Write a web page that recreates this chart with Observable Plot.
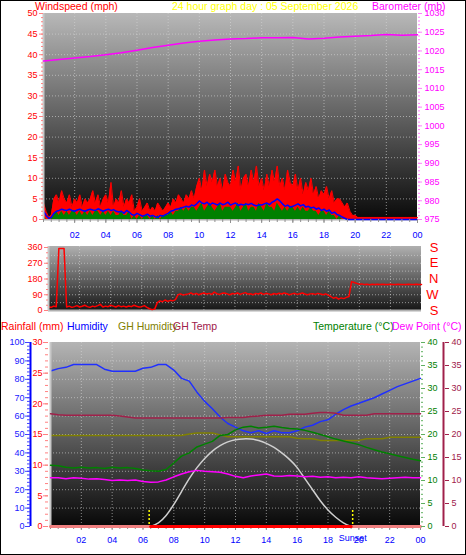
<!DOCTYPE html>
<html><head><meta charset="utf-8">
<script src="https://cdn.jsdelivr.net/npm/d3@7"></script>
<script src="https://cdn.jsdelivr.net/npm/@observablehq/plot@0.6"></script>
<style>
html,body{margin:0;padding:0;background:#fff;}
#chart{position:relative;width:466px;height:555px;overflow:hidden;background:#fff;font-family:"Liberation Sans",Arial,sans-serif;}
#border{position:absolute;left:0;top:0;width:466px;height:555px;box-sizing:border-box;border:1px solid #000;pointer-events:none;}
.lbl{position:absolute;font-size:10.5px;line-height:13px;white-space:nowrap;}
</style></head>
<body><div id="chart"></div>
<script>
// ---------- DATA ----------
const titleText = "24 hour graph day : 05 September 2026";
const hourTicks = [2,4,6,8,10,12,14,16,18,20,22,24];
const hourTickLabels = ["02","04","06","08","10","12","14","16","18","20","22","00"];
const windTicks = [0,5,10,15,20,25,30,35,40,45,50];
const baroTicks = [975,980,985,990,995,1000,1005,1010,1015,1020,1025,1030];
const dirTicks = [0,90,180,270,360];
const dirCompass = ["S","W","N","E","S"];
const rainTicks = [0,5,10,15,20,25,30];
const humTicks = [0,10,20,30,40,50,60,70,80,90,100];
const tempTicks = [0,5,10,15,20,25,30,35,40];
const sunrise = 6.4, sunset = 19.6;
const sunsetLabel = "Sunset";

// wind, every 10 minutes 00:00 .. 24:00 (mph)
const windGust = [4,2,0.5,1,5,6, 4,7,5,4,6,3, 5,4,6,3,5,4, 5,7,4,6,3,5, 6,4,9,3,5,4, 7,3,5,4,6,2,
 3,5,2,3,4,2, 3,2,4,3,2,3, 4,3,5,4,6,5, 4,6,5,7,5,8, 10,7,12,8,11,9, 12,8,10,7,11,9,
 8,12,9,13,7,10, 11,8,12,9,13,8, 10,7,11,8,12,9, 13,8,10,7,12,9, 8,11,7,10,6,9, 7,10,6,8,5,7,
 6,8,5,7,4,5, 5,4,3,4,2,1, 1,0.5,0.5,0.5,0.5,0.5, 0.5,0.5,0.5,0.5,0.5,0.5, 0.5,0.5,0.5,0.5,0.5,0.5, 0.5,0.5,0.5,0.5,0.5,0.5, 0.5];
const windAvg = [2,1,0.3,0.5,1.5,2, 2.2,2.5,2.3,2.2,2.5,2.2, 2,2.3,2.5,2.2,2,2.3, 2.5,2.3,2.2,2.6,2.3,2, 2.3,2.5,2.2,2.4,2,1.8, 2,1.5,2.2,1.8,1.2,1,
 1.5,1.2,0.8,1,1.3,0.8, 1,0.7,0.5,1,0.8,1.2, 1.5,2,2.2,2.5,2.6,2.8, 3,3.2,3,3.5,3.3,3.8, 4.5,4,3.8,4.2,3.5,4, 3.8,3.5,4,3.6,3.8,4.2,
 3.5,3.8,4,3.4,3.7,3.5, 3.8,3.6,3.9,3.5,3.3,3.6, 3.5,3.8,4,3.6,4.2,4.5, 5,4.5,3.8,3.2,3.5,3, 3.2,3.5,3.8,3.3,3.6,3, 3.2,2.8,3,2.5,2.8,2.2,
 2.5,2,2.3,1.5,1.8,1.2, 1,0.6,0.3,0,0,0, 0,0,0,0,0,0, 0,0,0,0,0,0, 0,0,0,0,0,0, 0,0,0,0,0,0, 0];
const windSpeed = [1,0,0,0,1,2, 1,2,1,2,1,2, 2,1,2,1,2,1, 2,1,2,2,1,2, 1,2,1,2,1,1, 2,1,1,2,0,1,
 0,1,0,1,1,0, 1,0,1,0,1,1, 1,2,1,2,2,3, 2,3,2,3,3,2, 3,4,2,3,4,3, 2,3,4,2,3,3,
 3,2,3,4,2,3, 4,2,3,3,2,4, 3,2,4,3,3,2, 4,3,2,3,2,3, 3,2,3,2,3,2, 2,3,2,2,1,2,
 2,1,2,1,1,0, 1,0,0,0,0,0, 0,0,0,0,0,0, 0,0,0,0,0,0, 0,0,0,0,0,0, 0,0,0,0,0,0, 0];
// barometer hourly (mb)
const barometer = [1017.3,1017.7,1018.1,1018.5,1019.0,1019.5,1020.2,1020.9,1021.5,1022.1,1022.6,1022.9,1023.2,
 1023.3,1023.5,1023.5,1023.6,1023.2,1023.4,1023.7,1023.9,1024.1,1024.4,1024.2,1024.3];
// wind direction every 10 minutes (degrees)
const windDir = [20,18,25,22,355,355, 355,20,25,18,22,28, 20,24,30,22,18,25, 22,28,35,20,25,22, 30,25,20,28,22,25, 20,26,22,30,24,20,
 22,28,18,10,5,8, 45,55,50,60,52,58, 55,62,90,95,88,92, 95,100,92,98,90,96, 100,94,98,92,105,96, 92,98,100,95,90,97,
 95,100,92,98,102,94, 96,90,98,94,100,92, 98,95,90,97,93,99, 94,100,96,90,95,98, 92,96,100,94,90,95, 96,92,98,94,90,95,
 88,80,70,75,65,72, 68,75,80,165,160,155, 150,152,148,150,147,150, 149,150,148,150,149,148, 150,149,148,150,148,149, 148,150,149,148,150,148, 148];
// every 30 minutes 00:00 .. 24:00
const humidity = [84.5,85.8,86.5,88,88,88,88,85.5,84.4,84.4,84.4,84.4,86,86.5,88,88,85,80.5,79,73,68,64,59.5,56,54,52,51,52,50.5,52,51,51,52,54,55,57,58,61,63.5,65.5,67,68.5,70,72,74,76,77.5,79,80.5];
const ghHumidity = [49.5,49.5,49.5,49.5,49.5,49.5,49.5,49.5,49.5,49.5,49.5,49.5,49.5,49.5,49.5,49.5,49.5,49.5,50.3,50.8,50.8,50.8,49.8,48.8,48.8,48.8,48.8,48.8,48.8,48.8,48.8,48.8,48,47.7,47.7,46.8,46.8,46.8,46.8,46.8,46.8,47.7,47.7,47.7,48.5,48.5,48.5,48.5,48.5];
const ghTemp = [24.5,24.3,24.2,24.2,24.2,24.2,24.2,24.2,24.2,24.0,23.8,23.6,23.6,23.6,23.6,23.6,23.6,23.6,23.6,23.6,23.6,23.6,23.6,23.7,23.7,23.7,23.9,24.0,24.2,24.2,24.2,24.4,24.4,24.4,24.6,24.8,24.8,24.6,24.2,24.2,24.2,24.2,24.5,24.5,24.5,24.5,24.5,24.5,24.5];
const temperature = [13.3,13.2,12.9,12.7,12.9,12.7,12.8,12.6,12.9,12.7,12.8,12.6,12.3,12.1,12.0,12.4,13.8,15.3,16.0,17.3,17.9,18.5,19.8,20.0,21.0,21.6,21.8,21.4,21.6,21.8,21.5,21.3,21.2,20.9,20.5,20.0,19.5,19.0,18.6,18.2,17.8,17.2,16.7,16.2,15.8,15.4,15.0,14.6,14.3];
const dewPoint = [10.6,10.6,10.4,10.6,10.5,10.3,10.4,10.2,10.0,10.1,10.0,10.1,9.8,9.6,9.7,10.1,10.8,11.4,11.9,12.2,12.0,11.9,11.8,11.4,10.9,10.6,11.0,11.2,11.4,11.0,10.9,11.1,11.0,10.8,10.9,10.7,10.8,10.6,10.7,10.6,10.8,10.6,10.5,10.4,10.5,10.6,10.7,10.6,10.6];
const solar = [0,0,0,0,0,0,0,0,0,0,0,0,0,0,2,6,12,19,26,32,37,41,44,46,47.2,47.6,47.5,46.7,45.2,43,40,36.5,32,26,20,14,9,5,2,0,0,0,0,0,0,0,0,0,0];
const rainfall = [0,0,0,0,0,0,0,0,0,0,0,0,0,0,0,0,0,0,0,0,0,0,0,0,0,0,0,0,0,0,0,0,0,0,0,0,0,0,0,0,0,0,0,0,0,0,0,0,0];

// ---------- BUILD ----------
const W = 466;
const chart = document.getElementById("chart");
const FONT = "'Liberation Sans', Arial, sans-serif";
const st = {background:"transparent", maxWidth:"none", overflow:"visible", fontFamily:FONT, fontSize:"9px"};
const fmtInt = d3.format("d");
const tickLabel = new Map(hourTicks.map((h,i)=>[h, hourTickLabels[i]]));
const halfHours = d3.range(0, 24.001, 0.5);
const gridHours = hourTicks.slice(0, -1);

const wind = windGust.map((g,i)=>({t:i/6, gust:g, avg:windAvg[i], spd:windSpeed[i], dir:windDir[i]}));
const baro = barometer.map((b,i)=>({t:i, b}));
const half = humidity.map((h,i)=>({t:i/2, hum:h, ghh:ghHumidity[i], ght:ghTemp[i], temp:temperature[i], dew:dewPoint[i], sol:solar[i], rain:rainfall[i]}));

function bg(id, c0, c1) {
  return (index, scales, values, dims) => {
    const g = document.createElementNS("http://www.w3.org/2000/svg","g");
    const x = dims.marginLeft, y = dims.marginTop;
    const w = dims.width - dims.marginLeft - dims.marginRight, h = dims.height - dims.marginTop - dims.marginBottom;
    g.innerHTML = `<defs><linearGradient id="${id}" x1="0" y1="0" x2="0" y2="1"><stop offset="0" stop-color="${c0}"/><stop offset="1" stop-color="${c1}"/></linearGradient></defs><rect x="${x}" y="${y}" width="${w}" height="${h}" fill="url(#${id})"/>`;
    return g;
  };
}
const gridStyle = {stroke:"#d8d8d8", strokeOpacity:0.6, strokeDasharray:"1,2"};
function place(svg, top) {
  svg.style.position = "absolute"; svg.style.left = "0px"; svg.style.top = top + "px";
  chart.appendChild(svg);
}
function label(text, x, y, color) {
  const s = document.createElement("div");
  s.className = "lbl"; s.textContent = text;
  s.style.left = x + "px"; s.style.top = y + "px"; s.style.color = color;
  chart.appendChild(s);
}

// ---- Top panel: wind speed ----
const topDims = {width:W, height:245, marginTop:13, marginBottom:26, marginLeft:43, marginRight:49};
place(Plot.plot({
  ...topDims, style: st,
  x: {domain:[0,24], axis:null},
  y: {domain:[0,50], axis:null, label:null},
  marks: [
    bg("gTop", "#b8b8b8", "#0a0a0a"),
    Plot.ruleY(windTicks.slice(1,-1), gridStyle),
    Plot.ruleX(gridHours, gridStyle),
    Plot.ruleY([0], {stroke:"#b0b0b0", strokeWidth:2}),
    Plot.areaY(wind, {x:"t", y:"gust", fill:"#ff0000"}),
    Plot.lineY(wind, {x:"t", y:"gust", stroke:"#ff0000", strokeWidth:1}),
    Plot.areaY(wind, {x:"t", y:"spd", fill:"#008000"}),
    Plot.lineY(wind, {x:"t", y:"avg", stroke:"#0000ff", strokeWidth:1.5}),
    Plot.ruleX([0], {stroke:"#c8c8c8", strokeWidth:2}),
    Plot.axisY(d3.range(0,50.5,1), {anchor:"left", tickSize:2, stroke:"#ff8080", fill:"none", label:null}),
    Plot.axisY(windTicks, {anchor:"left", tickSize:4, tickPadding:2, stroke:"#ff8080", fill:"#ff0000", label:null, tickFormat:fmtInt}),
    Plot.axisX(halfHours, {anchor:"bottom", tickSize:3, stroke:"#909090", fill:"none", label:null}),
    Plot.axisX(hourTicks, {anchor:"bottom", tickSize:4, tickPadding:8, stroke:"#909090", fill:"#0000ff", label:null, tickFormat:d=>tickLabel.get(d)})
  ]
}), 0);
place(Plot.plot({
  ...topDims, style: st,
  x: {domain:[0,24], axis:null},
  y: {domain:[975,1030], axis:null, label:null},
  marks: [
    Plot.lineY(baro, {x:"t", y:"b", stroke:"#ff00ff", strokeWidth:1.5}),
    Plot.axisY(d3.range(975,1030.5,1), {anchor:"right", tickSize:2, stroke:"#ff80ff", fill:"none", label:null}),
    Plot.axisY(baroTicks, {anchor:"right", tickSize:4, tickPadding:3, stroke:"#ff80ff", fill:"#ff00ff", label:null, tickFormat:fmtInt})
  ]
}), 0);

// ---- Middle panel: wind direction ----
place(Plot.plot({
  width:W, height:80, marginTop:6, marginBottom:9, marginLeft:48, marginRight:45, style: st,
  x: {domain:[0,24], axis:null},
  y: {domain:[0,360], axis:null, label:null, insetTop:1, insetBottom:1},
  marks: [
    bg("gMid", "#b0b0b0", "#141414"),
    Plot.ruleY([45,90,135,180,225,270,315], gridStyle),
    Plot.ruleX(gridHours, gridStyle),
    Plot.ruleY([0], {stroke:"#b0b0b0", strokeWidth:2}),
    Plot.lineY(wind, {x:"t", y:"dir", stroke:"#ff0000", strokeWidth:1.5}),
    Plot.ruleX([0], {stroke:"#c8c8c8", strokeWidth:2}),
    Plot.axisY(d3.range(0,361,30), {anchor:"left", tickSize:2, stroke:"#ff8080", fill:"none", label:null}),
    Plot.axisY(dirTicks, {anchor:"left", tickSize:4, tickPadding:2, stroke:"#ff8080", fill:"#ff0000", label:null, tickFormat:fmtInt}),
    Plot.text(dirTicks, {y:d=>d, text:(d,i)=>dirCompass[i], frameAnchor:"right", dx:17, fill:"#ff0000", fontSize:13})
  ]
}), 240);

// ---- Bottom panel ----
const botDims = {width:W, height:219, marginTop:6, marginBottom:29, marginLeft:50, marginRight:46};
place(Plot.plot({
  ...botDims, style: st,
  x: {domain:[0,24], axis:null},
  y: {domain:[0,100], axis:null, label:null},
  marks: [
    bg("gBot", "#b4b4b4", "#080808"),
    Plot.ruleY([10,20,30,40,50,60,70,80,90], gridStyle),
    Plot.ruleX(gridHours, gridStyle),
    Plot.ruleX([sunrise, sunset], {stroke:"#ffff00", strokeWidth:1.5, strokeDasharray:"2,2", insetTop:168}),
    Plot.lineY(half, {x:"t", y:"ghh", stroke:"#808000", strokeWidth:1.5}),
    Plot.lineY(half.filter(d=>d.t>=sunrise && d.t<=sunset), {x:"t", y:"sol", stroke:"#d0d0d0", strokeWidth:1.5, curve:"natural"}),
    Plot.lineY(half, {x:"t", y:"hum", stroke:"#2030ff", strokeWidth:1.5}),
    Plot.ruleX([0], {stroke:"#c8c8c8", strokeWidth:2}),
    Plot.ruleX([0], {dx:-20, stroke:"#0000ff", strokeWidth:2}),
    Plot.axisY(d3.range(0,100.5,2), {anchor:"left", dx:-20, tickSize:3, stroke:"#4040ff", fill:"none", label:null}),
    Plot.axisY(humTicks, {anchor:"left", dx:-20, tickSize:5, tickPadding:1, stroke:"#4040ff", fill:"#2020ff", label:null, tickFormat:fmtInt}),
    Plot.axisX(halfHours, {anchor:"bottom", tickSize:3, stroke:"#909090", fill:"none", label:null}),
    Plot.axisX(hourTicks, {anchor:"bottom", tickSize:4, tickPadding:6, stroke:"#909090", fill:"#0000ff", label:null, tickFormat:d=>tickLabel.get(d)}),
    Plot.text([sunset], {x:d=>d, text:()=>sunsetLabel, frameAnchor:"bottom", dy:14, fill:"#0000ff"})
  ]
}), 336);
place(Plot.plot({
  ...botDims, style: st,
  x: {domain:[0,24], axis:null},
  y: {domain:[0,30], axis:null, label:null},
  marks: [
    Plot.lineY(half, {x:"t", y:"rain", stroke:"#f08080", strokeWidth:3}),
    Plot.lineY(half.filter(d=>d.t>=sunrise && d.t<=sunset+0.01), {x:"t", y:"rain", stroke:"#ff0000", strokeWidth:3}),
    Plot.axisY(d3.range(0,30.5,1), {anchor:"left", dx:-2, tickSize:3, stroke:"#ff8080", fill:"none", label:null}),
    Plot.axisY(rainTicks, {anchor:"left", dx:-2, tickSize:5, tickPadding:1, stroke:"#ff8080", fill:"#ff0000", label:null, tickFormat:fmtInt})
  ]
}), 336);
place(Plot.plot({
  ...botDims, style: st,
  x: {domain:[0,24], axis:null},
  y: {domain:[0,40], axis:null, label:null},
  marks: [
    Plot.lineY(half, {x:"t", y:"ght", stroke:"#a0204a", strokeWidth:1.5}),
    Plot.lineY(half, {x:"t", y:"temp", stroke:"#008000", strokeWidth:1.5}),
    Plot.lineY(half, {x:"t", y:"dew", stroke:"#ff00ff", strokeWidth:1.5}),
    Plot.axisY(d3.range(0,40.5,1), {anchor:"right", tickSize:2, stroke:"#60b060", fill:"none", label:null}),
    Plot.axisY(tempTicks, {anchor:"right", tickSize:4, tickPadding:3, stroke:"#60b060", fill:"#008000", label:null, tickFormat:fmtInt}),
    Plot.ruleX([24], {dx:23, stroke:"#a0204a", strokeWidth:2}),
    Plot.axisY(tempTicks, {anchor:"right", dx:24, tickSize:4, tickPadding:3, stroke:"#a0204a", fill:"#a0204a", label:null, tickFormat:fmtInt})
  ]
}), 336);

// ---- Text labels ----
label("Windspeed (mph)", 35, 0, "#ff0000");
label(titleText, 172, 0, "#ffff00");
label("Barometer (mb)", 372, 0, "#ff00ff");
label("Rainfall (mm)", 1, 320, "#ff0000");
label("Humidity", 67, 320, "#0000ff");
label("GH Humidity", 118, 320, "#808000");
label("GH Temp", 173, 320, "#a0204a");
label("Temperature (°C)", 313, 320, "#008000");
label("Dew Point (°C)", 392, 320, "#ff00ff");
const b = document.createElement("div"); b.id = "border"; chart.appendChild(b);
</script>
</body></html>
